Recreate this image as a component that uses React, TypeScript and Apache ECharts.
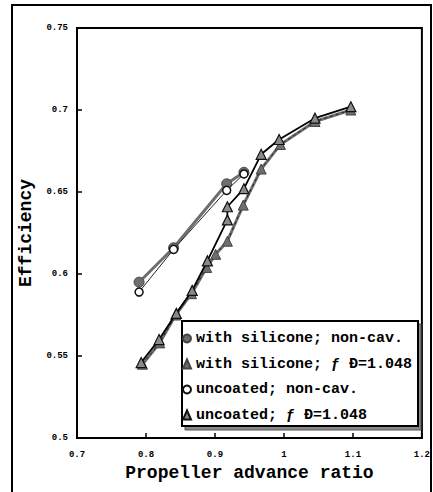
import React, { useEffect, useRef } from "react";
import * as echarts from "echarts";

const xMin = 0.7;
const xMax = 1.2;
const yMin = 0.5;
const yMax = 0.75;

const silNonCavX = [0.79, 0.84, 0.917, 0.942];
const silNonCavY = [0.595, 0.616, 0.655, 0.662];
const uncNonCavX = [0.79, 0.84, 0.917, 0.942];
const uncNonCavY = [0.589, 0.615, 0.651, 0.661];
const silCavX = [0.795, 0.82, 0.843, 0.866, 0.888, 0.901, 0.918, 0.941, 0.967, 0.995, 1.045, 1.097];
const silCavY = [0.545, 0.558, 0.575, 0.588, 0.604, 0.612, 0.62, 0.642, 0.664, 0.679, 0.693, 0.7];
const uncCavX = [0.793, 0.819, 0.844, 0.867, 0.889, 0.918, 0.918, 0.942, 0.967, 0.993, 1.045, 1.097];
const uncCavY = [0.546, 0.56, 0.576, 0.59, 0.608, 0.633, 0.641, 0.652, 0.673, 0.682, 0.695, 0.702];

const names = [
  "with silicone; non-cav.",
  "with silicone; \u0192 \u00D0=1.048",
  "uncoated; non-cav.",
  "uncoated; \u0192 \u00D0=1.048",
];

const zip = (xs: number[], ys: number[]) => xs.map((x, i) => [x, ys[i]]);

const FONT = "Liberation Mono";

export default function App() {
  const ref = useRef<HTMLDivElement>(null);
  useEffect(() => {
    if (!ref.current) return;
    const chart = echarts.init(ref.current, null, { renderer: "svg" });
    const gray = "#6e6e6e";
    chart.setOption({
      animation: false,
      backgroundColor: "#fff",
      grid: { left: 77, top: 28, right: 9, bottom: 54, show: true, borderColor: "#000", borderWidth: 2 },
      xAxis: {
        type: "value",
        min: xMin,
        max: xMax,
        interval: 0.1,
        name: "Propeller advance ratio",
        nameLocation: "middle",
        nameGap: 16,
        nameTextStyle: { fontFamily: FONT, fontWeight: "bold", fontSize: 18, color: "#000" },
        axisLine: { show: true, lineStyle: { color: "#000", width: 2 } },
        axisTick: { show: true, inside: true, length: 5, lineStyle: { color: "#000", width: 1.5 } },
        axisLabel: { fontFamily: FONT, fontWeight: "bold", fontSize: 9, color: "#000", margin: 12 },
        splitLine: { show: false },
      },
      yAxis: {
        type: "value",
        min: yMin,
        max: yMax,
        interval: 0.05,
        name: "Efficiency",
        nameLocation: "middle",
        nameGap: 36,
        nameTextStyle: { fontFamily: FONT, fontWeight: "bold", fontSize: 18, color: "#000" },
        axisLine: { show: true, lineStyle: { color: "#000", width: 2 } },
        axisTick: { show: true, inside: true, length: 5, lineStyle: { color: "#000", width: 1.5 } },
        axisLabel: { fontFamily: FONT, fontWeight: "bold", fontSize: 9, color: "#000", margin: 9 },
        splitLine: { show: false },
      },
      legend: {
        left: 182,
        top: 331,
        orient: "vertical",
        padding: 0,
        itemWidth: 8,
        itemHeight: 9,
        itemGap: 10.5,
        z: 30,
        textStyle: { fontFamily: FONT, fontWeight: "bold", fontSize: 15, color: "#000" },
        data: [
          { name: names[0], icon: "circle" },
          { name: names[1], icon: "triangle" },
          { name: names[2], icon: "circle" },
          { name: names[3], icon: "triangle" },
        ],
      },
      graphic: [
        {
          type: "rect",
          z: -10,
          silent: true,
          shape: { x: 12, y: 5, width: 419, height: 520 },
          style: { fill: "none", stroke: "#000", lineWidth: 2 },
        },
        {
          type: "rect",
          z: 8,
          silent: true,
          shape: { x: 185, y: 324, width: 236, height: 106 },
          style: { fill: "#8a8a8a", stroke: "#555", lineWidth: 1 },
        },
        {
          type: "rect",
          z: 9,
          silent: true,
          shape: { x: 182, y: 321, width: 236, height: 105 },
          style: { fill: "#fff", stroke: "#000", lineWidth: 2 },
        },
      ],
      series: [
        {
          name: names[0],
          type: "line",
          data: zip(silNonCavX, silNonCavY),
          symbol: "circle",
          symbolSize: 10,
          itemStyle: { color: gray, borderColor: "#444", borderWidth: 1 },
          lineStyle: { color: gray, width: 3 },
          z: 3,
        },
        {
          name: names[2],
          type: "line",
          data: zip(uncNonCavX, uncNonCavY),
          symbol: "circle",
          symbolSize: 8,
          itemStyle: { color: "#fff", borderColor: "#111", borderWidth: 1.5 },
          lineStyle: { color: "#222", width: 1 },
          z: 4,
        },
        {
          name: names[1],
          type: "line",
          data: zip(silCavX, silCavY),
          symbol: "triangle",
          symbolSize: 10,
          itemStyle: { color: gray, borderColor: "#444", borderWidth: 1 },
          lineStyle: { color: gray, width: 3 },
          z: 5,
        },
        {
          type: "line",
          data: zip(silCavX, silCavY),
          symbol: "none",
          lineStyle: { color: "#222", width: 1, type: [3, 3] },
          z: 5,
          silent: true,
        },
        {
          name: names[3],
          type: "line",
          data: zip(uncCavX, uncCavY),
          symbol: "triangle",
          symbolSize: 10,
          itemStyle: { color: "#8a8a8a", borderColor: "#111", borderWidth: 1.2 },
          lineStyle: { color: "#000", width: 1.8 },
          z: 6,
        },
      ],
    });
    return () => chart.dispose();
  }, []);
  return (
    <div
      ref={ref}
      style={{ position: "fixed", left: 0, top: 0, width: 433, height: 492, background: "#fff" }}
    />
  );
}
